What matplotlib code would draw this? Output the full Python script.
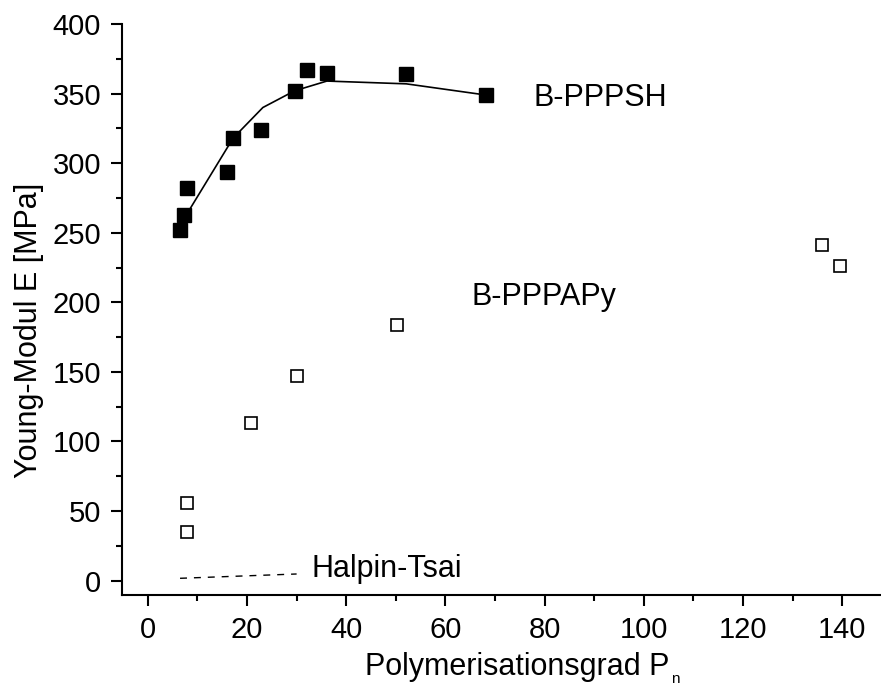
import numpy as np
import matplotlib.pyplot as plt
from matplotlib.ticker import MultipleLocator

plt.rcParams['font.family'] = ['Liberation Sans', 'DejaVu Sans']

# B-PPPSH, gefuellte Quadrate
sh_x = [6.4, 7.3, 7.9, 16.0, 17.2, 22.8, 29.6, 32.0, 36.1, 52.1, 68.1]
sh_y = [252, 263, 282, 294, 318, 324, 352, 367, 365, 364, 349]
# Ausgleichskurve B-PPPSH
fit_x = [6.6, 17.2, 23.2, 29.6, 36.1, 52.1, 68.1]
fit_y = [256, 318, 340, 352, 359, 357, 349]
# B-PPPAPy, offene Quadrate
apy_x = [7.9, 8.0, 20.8, 30.1, 50.3, 135.9, 139.6]
apy_y = [35, 56, 113, 147, 184, 241, 226]
# Halpin-Tsai
ht_x = [6.5, 30.0]
ht_y = [1.7, 4.8]

W, H = 881, 685
fig = plt.figure(figsize=(W / 100, H / 100), dpi=100)
ax = fig.add_axes([122 / W, 90 / H, (W - 122) / W, (595 - 24) / H])

ax.plot(fit_x, fit_y, color='black', lw=1.2, zorder=2)
ax.plot(sh_x, sh_y, ls='none', marker='s', ms=9.5, color='black', zorder=3)
ax.plot(apy_x, apy_y, ls='none', marker='s', ms=8.5, mfc='white', mec='black',
        mew=1.2, zorder=3)
ax.plot(ht_x, ht_y, color='black', lw=1.0, ls=(0, (5, 5)))

ax.text(77.7, 347, 'B-PPPSH', fontsize=22, va='center')
ax.text(65.3, 204, 'B-PPPAPy', fontsize=22, va='center')
ax.text(32.9, 8.6, 'Halpin-Tsai', fontsize=22, va='center')

ax.set_xlim(-5.2, 147.8)
ax.set_ylim(-10.3, 400)
ax.xaxis.set_major_locator(MultipleLocator(20))
ax.xaxis.set_minor_locator(MultipleLocator(10))
ax.yaxis.set_major_locator(MultipleLocator(50))
ax.yaxis.set_minor_locator(MultipleLocator(25))

for s in ['top', 'right']:
    ax.spines[s].set_visible(False)
for s in ['left', 'bottom']:
    ax.spines[s].set_linewidth(1.5)
ax.tick_params(which='major', direction='out', length=8, width=1.5,
               labelsize=21)
ax.tick_params(which='minor', direction='out', length=4.5, width=1.5)
ax.tick_params(axis='y', pad=7)
ax.tick_params(axis='x', pad=7)

fig.text(29 / W, 1 - 330 / H, 'Young-Modul E [MPa]', rotation=90,
         fontsize=22, ha='center', va='center')

xl = fig.text(365 / W, 1 - 675 / H, 'Polymerisationsgrad P', fontsize=22,
              ha='left', va='baseline')
fig.canvas.draw()
bb = xl.get_window_extent()
fig.text((bb.x1 + 2) / W, 1 - 683 / H, 'n', fontsize=11, ha='left',
         va='baseline')

fig.savefig('out.png', dpi=100)
